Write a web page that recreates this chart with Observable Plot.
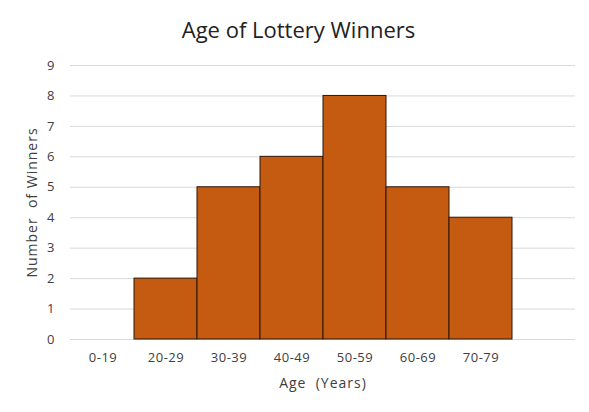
<!DOCTYPE html>
<html>
<head>
<meta charset="utf-8">
<script src="https://cdn.jsdelivr.net/npm/d3@7"></script>
<script src="https://cdn.jsdelivr.net/npm/@observablehq/plot@0.6"></script>
<style>
  body { margin: 0; background: #fff; }
  #wrap { width: 589px; height: 412px; position: relative; font-family: "Open Sans", Lato, sans-serif; }
  #title { height: 48px; line-height: 58px; text-align: center; font-size: 22px; color: #222; padding-left: 8px; box-sizing: border-box; }
  .xt text { letter-spacing: 0.5px; }
  .lab { letter-spacing: 1px; }
</style>
</head>
<body>
<div id="wrap">
  <div id="title">Age of Lottery Winners</div>
  <div id="chart"></div>
</div>
<script>
const ageGroups = ["0-19", "20-29", "30-39", "40-49", "50-59", "60-69", "70-79", ""];
const winners = [0, 2, 5, 6, 8, 5, 4];
const yTicks = [0, 1, 2, 3, 4, 5, 6, 7, 8, 9];

const data = winners.map((v, i) => ({age: ageGroups[i], n: v}));

const chart = Plot.plot({
  width: 589,
  height: 364,
  marginLeft: 70,
  marginRight: 14,
  marginTop: 17,
  marginBottom: 73,
  style: {fontFamily: "'Open Sans', Lato, sans-serif", fontSize: "12px", color: "#404040", background: "#fff"},
  x: {domain: ageGroups, padding: 0, label: null},
  y: {domain: [0, 9], ticks: yTicks, label: null},
  marks: [
    Plot.gridY(yTicks, {stroke: "#d9d9d9", strokeOpacity: 1, strokeWidth: 1}),
    Plot.barY(data.filter(d => d.n > 0), {x: "age", y: "n", fill: "#C55A11", stroke: "#2b1606", strokeWidth: 1, inset: 0}),
    Plot.axisY(yTicks, {tickSize: 0, tickPadding: 16, fontSize: 13, label: null, fill: "#404040"}),
    Plot.axisX({tickSize: 0, tickPadding: 13, fontSize: 13, label: null, fill: "#404040", className: "xt"}),
    Plot.text(["Number  of Winners"], {frameAnchor: "left", textAnchor: "middle", dx: -38, rotate: -90, fontSize: 14, fill: "#404040", className: "lab"}),
    Plot.text(["Age  (Years)"], {frameAnchor: "bottom", textAnchor: "middle", dy: 48, dx: 0, fontSize: 14, fill: "#404040", className: "lab"})
  ]
});
document.getElementById("chart").appendChild(chart);
</script>
</body>
</html>
